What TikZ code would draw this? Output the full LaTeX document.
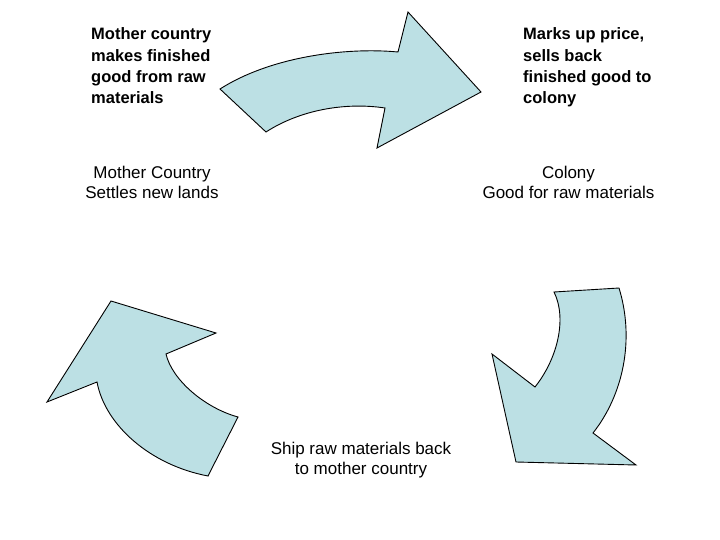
\documentclass[tikz,border=0pt]{standalone}
\usepackage{fontspec}
\setmainfont{Liberation Sans}
\definecolor{arrowfill}{RGB}{188,224,228}
\begin{document}
\begin{tikzpicture}[x=1pt,y=-1pt,
  bigarrow/.style={fill=arrowfill,draw=black,line width=0.9pt,line join=miter},
  boldlabel/.style={anchor=north west,inner sep=0pt,align=left,font=\fontsize{16.5}{21.4}\selectfont\bfseries},
  plainlabel/.style={anchor=north,inner sep=0pt,align=center,font=\fontsize{17}{20.5}\selectfont}]
\useasboundingbox (0,0) rectangle (720,540);
% top arrow
\draw[bigarrow] (220,89) -- (266,132) .. controls (300,110) and (345,102) .. (385,108)
  -- (377,148) -- (481,92) -- (408,12) -- (398,52)
  .. controls (345,47) and (270,57) .. (220,89) -- cycle;
% right arrow
\draw[bigarrow] (554,292) -- (619,288) .. controls (635,340) and (623,395) .. (593,433)
  -- (636,465) -- (516,462) -- (492,354) -- (535,387)
  .. controls (558,358) and (567,318) .. (554,292) -- cycle;
% left arrow
\draw[bigarrow] (111,301) -- (216,333) -- (166,354) .. controls (172,380) and (205,408) .. (238,417)
  -- (208,476) .. controls (150,465) and (105,425) .. (97,382) -- (47,402) -- cycle;
% labels
\node[boldlabel] (mc) at (91,27.5) {Mother country\\makes finished\\good from raw\\materials};
\node[boldlabel] (mu) at (523,27.5) {Marks up price,\\sells back\\finished good to\\colony};
\node[plainlabel] (ms) at (152,165.5) {Mother Country\\Settles new lands};
\node[plainlabel] (co) at (568.5,165.5) {Colony\\Good for raw materials};
\node[plainlabel] (sh) at (361,441.5) {Ship raw materials back\\to mother country};
\end{tikzpicture}
\end{document}
